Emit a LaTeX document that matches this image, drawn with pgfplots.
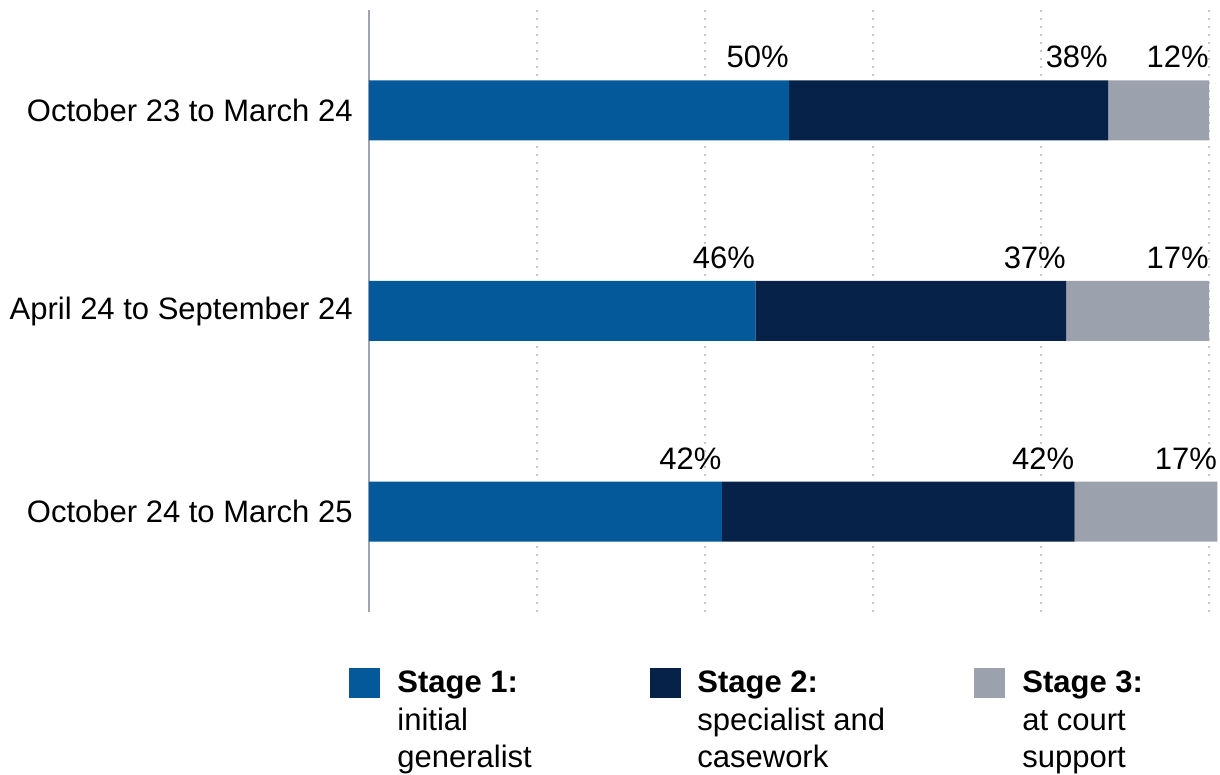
\documentclass[border=0pt]{standalone}
\usepackage{pgfplots}
\usepackage{pgfplotstable}
\pgfplotsset{compat=1.18}
\usepackage{fontspec}
\setmainfont{Liberation Sans}
\definecolor{cA}{RGB}{4,89,155}
\definecolor{cB}{RGB}{6,34,72}
\definecolor{cC}{RGB}{156,161,174}
\definecolor{gridc}{RGB}{196,199,210}
\definecolor{axc}{RGB}{160,164,176}
\pgfplotstableread{
y val
0 42
1 46
2 50
}\stageA
\pgfplotstableread{
y val
0 42
1 37
2 38
}\stageB
\pgfplotstableread{
y val
0 17
1 17
2 12
}\stageC
\begin{document}
\fontsize{15.5pt}{18pt}\selectfont
\begin{tikzpicture}
\begin{axis}[
  name=ax,
  scale only axis,
  width=420pt, height=301pt,
  xbar stacked,
  bar width=30pt,
  xmin=0, xmax=100,
  ymin=-0.5, ymax=2.5,
  clip=false,
  axis line style={draw=none},
  major tick length=0pt,
  xtick={20,40,60,80,100},
  xticklabels={},
  xmajorgrids,
  grid style={gridc, line width=1pt, dash pattern=on 1pt off 3pt},
  extra x ticks={0},
  extra x tick labels={},
  extra x tick style={grid style={axc, line width=0.8pt, solid}},
  ytick={0,1,2},
  yticklabels={October 24 to March 25, April 24 to September 24, October 23 to March 24},
  yticklabel style={inner sep=0pt, xshift=-8pt},
  point meta=explicit,
  visualization depends on={\thisrow{val} \as \segval},
  nodes near coords={\pgfmathprintnumber[assume math mode=true]{\pgfplotspointmeta}\%},
  every node near coord/.append style={anchor=south east, inner sep=0pt, yshift=21pt, xshift={\segval*2.1pt}, text=black},
]
\addplot[fill=cA, draw=none] table[x=val, y=y, meta=val] {\stageA};
\addplot[fill=cB, draw=none] table[x=val, y=y, meta=val] {\stageB};
\addplot[fill=cC, draw=none] table[x=val, y=y, meta=val] {\stageC};
\end{axis}
% legend
\fill[cA] ([xshift=-10pt,yshift=-28pt]ax.south west) rectangle ++(15.5pt,-15pt);
\fill[cB] ([xshift=140.5pt,yshift=-28pt]ax.south west) rectangle ++(15.5pt,-15pt);
\fill[cC] ([xshift=302.5pt,yshift=-28pt]ax.south west) rectangle ++(15.5pt,-15pt);
\node[anchor=base west, inner sep=0pt, align=left] at ([xshift=14pt,yshift=-40.5pt]ax.south west) {\fontsize{15.5pt}{18.7pt}\selectfont\parbox[t]{120pt}{\textbf{Stage 1:}\\initial\\generalist}};
\node[anchor=base west, inner sep=0pt, align=left] at ([xshift=164pt,yshift=-40.5pt]ax.south west) {\fontsize{15.5pt}{18.7pt}\selectfont\parbox[t]{130pt}{\textbf{Stage 2:}\\specialist and\\casework}};
\node[anchor=base west, inner sep=0pt, align=left] at ([xshift=326.5pt,yshift=-40.5pt]ax.south west) {\fontsize{15.5pt}{18.7pt}\selectfont\parbox[t]{90pt}{\textbf{Stage 3:}\\at court\\support}};
\pgfresetboundingbox
\path[use as bounding box] ([xshift=-184.5pt,yshift=-81.5pt]ax.south west) rectangle ([xshift=425.5pt,yshift=5pt]ax.north west);
\end{tikzpicture}
\end{document}
